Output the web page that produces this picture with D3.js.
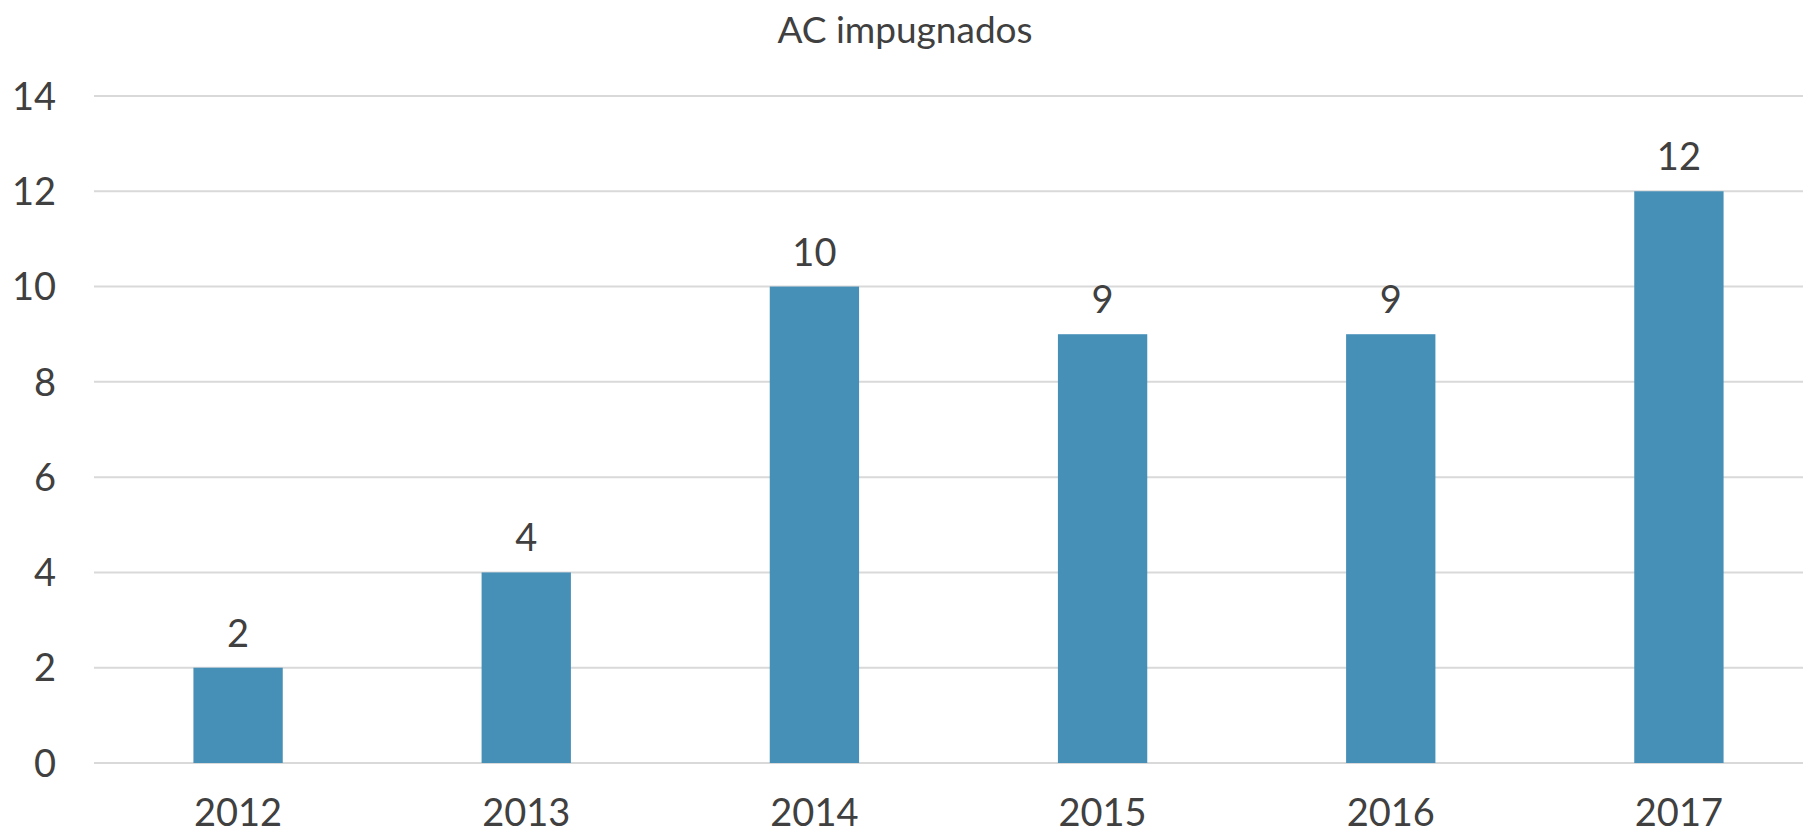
<!DOCTYPE html>
<html>
<head>
<meta charset="utf-8">
<script src="https://cdn.jsdelivr.net/npm/d3@7"></script>
<style>
	body { margin: 0; background: #fff; }
	svg text { font-family: Lato, "Open Sans", sans-serif; fill: #404040; }
</style>
</head>
<body>
<svg id="chart" width="1803" height="835"></svg>
<script>
// Data
const years = ["2012", "2013", "2014", "2015", "2016", "2017"];
const values = [2, 4, 10, 9, 9, 12];
const yTicks = [0, 2, 4, 6, 8, 10, 12, 14];
const title = "AC impugnados";

const svg = d3.select("#chart");
const width = 1803;

// Scales
const x = d3.scaleBand()
	.domain(years)
	.range([94, 1823])
	.paddingInner(0.69)
	.paddingOuter(0.345);

const y = d3.scaleLinear()
	.domain([0, 14])
	.range([763, 96]);

// Gridlines
svg.append("g")
	.selectAll("line")
	.data(yTicks)
	.join("line")
	.attr("x1", 94)
	.attr("x2", width)
	.attr("y1", d => y(d))
	.attr("y2", d => y(d))
	.attr("stroke", "#d9d9d9")
	.attr("stroke-width", 2);

// Y labels
svg.append("g")
	.selectAll("text")
	.data(yTicks)
	.join("text")
	.attr("x", 56)
	.attr("y", d => y(d))
	.attr("dy", "0.36em")
	.attr("text-anchor", "end")
	.style("font-size", "38px")
	.text(d => d);

// Bars
svg.append("g")
	.selectAll("rect")
	.data(values)
	.join("rect")
	.attr("x", (d, i) => x(years[i]))
	.attr("width", x.bandwidth())
	.attr("y", d => y(d))
	.attr("height", d => y(0) - y(d))
	.style("fill", "#4690b8");

// Value labels
svg.append("g")
	.selectAll("text")
	.data(values)
	.join("text")
	.attr("x", (d, i) => x(years[i]) + x.bandwidth() / 2)
	.attr("y", d => y(d) - 21)
	.attr("text-anchor", "middle")
	.style("font-size", "38px")
	.text(d => d);

// X labels
svg.append("g")
	.selectAll("text")
	.data(years)
	.join("text")
	.attr("x", d => x(d) + x.bandwidth() / 2)
	.attr("y", 826)
	.attr("text-anchor", "middle")
	.style("font-size", "38px")
	.text(d => d);

// Title
svg.append("text")
	.attr("x", 905)
	.attr("y", 43)
	.attr("text-anchor", "middle")
	.style("font-size", "37px")
	.text(title);
</script>
</body>
</html>
